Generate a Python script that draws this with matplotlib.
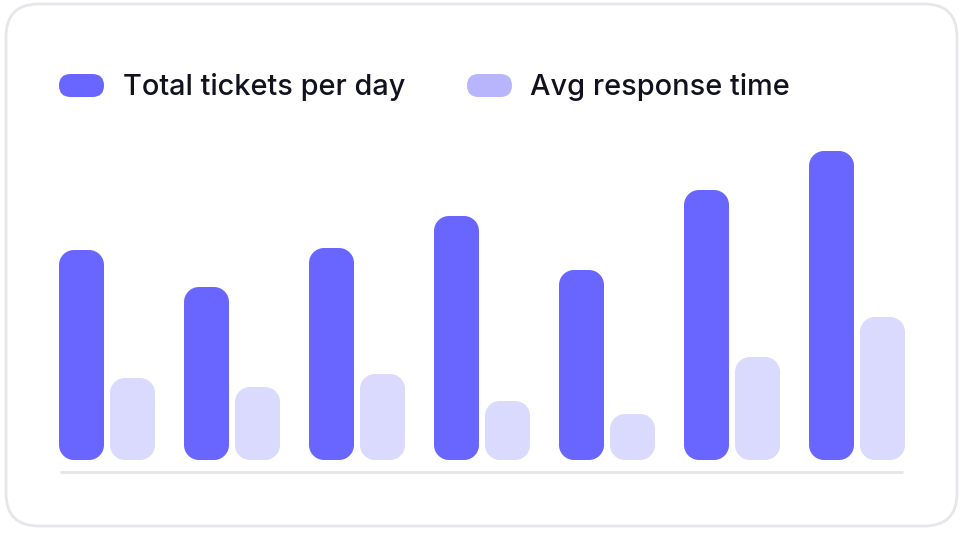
import matplotlib.pyplot as plt
from matplotlib.patches import FancyBboxPatch, Polygon
import numpy as np

# data (arbitrary units)
days = ["Mon", "Tue", "Wed", "Thu", "Fri", "Sat", "Sun"]
tickets = [210, 173, 212, 244, 190, 270, 309]
response = [82, 73, 86, 59, 46, 103, 143]
labels = ["Total tickets per day", "Avg response time"]

dark = "#6966FF"
light = "#DAD9FE"
legend_light = "#B8B5FD"
text_col = "#12121F"

W, H = 964, 535
fig = plt.figure(figsize=(W / 100, H / 100), dpi=100)
fig.patch.set_facecolor("white")

# card behind everything
card = FancyBboxPatch((6 / W, 1 - 526 / H), 951 / W, 522 / H,
                      boxstyle="round,pad=0,rounding_size=0.034",
                      mutation_aspect=W / H,
                      transform=fig.transFigure, facecolor="white",
                      edgecolor="#E6E6EB", linewidth=2, zorder=-5)
fig.patches.append(card)

# axes placed so that 1 y unit ~ 1 pixel
left, right, base, top = 59, 904, 472, 140
ax = fig.add_axes([left / W, 1 - base / H, (right - left) / W, (base - top) / H])
ax.set_zorder(2)
ax.set_facecolor("none")
ax.set_xlim(-0.384, 6.376)
ax.set_ylim(-12, base - top - 12)

x = np.arange(len(days))
bw = 0.36
off = 0.204
b1 = ax.bar(x - off, tickets, bw, color=dark)
b2 = ax.bar(x + off, response, bw, color=light)

px_per_x = (right - left) / (6.376 + 0.384)
r_px = 15


def round_corners(p):
    # rebuild a bar as a polygon with circular corners (radius in pixels)
    x0, y0 = p.get_x(), p.get_y()
    x1, y1 = x0 + p.get_width(), y0 + p.get_height()
    rx, ry = r_px / px_per_x, r_px
    t = np.linspace(0, np.pi / 2, 16)
    pts = []
    for cx, cy, a0 in [(x1 - rx, y1 - ry, 0), (x0 + rx, y1 - ry, np.pi / 2),
                       (x0 + rx, y0 + ry, np.pi), (x1 - rx, y0 + ry, 1.5 * np.pi)]:
        for a in a0 + t:
            pts.append((cx + rx * np.cos(a), cy + ry * np.sin(a)))
    return Polygon(pts, closed=True, facecolor=p.get_facecolor(),
                   edgecolor="none", clip_on=False)


for bars in (b1, b2):
    for p in bars:
        ax.add_patch(round_corners(p))
        p.set_visible(False)

ax.axhline(-12, xmin=0.001, xmax=0.999, color="#E4E4E9", linewidth=2,
           clip_on=False, solid_capstyle="butt")
for s in ax.spines.values():
    s.set_visible(False)
ax.set_xticks([])
ax.set_yticks([])

# legend pills + text
for lx, tx, col, lab in [(59, 123, dark, labels[0]), (467, 530, legend_light, labels[1])]:
    pill = FancyBboxPatch((lx / W, 1 - 97 / H), 45 / W, 23 / H,
                          boxstyle="round,pad=0,rounding_size=0.0119",
                          mutation_aspect=W / H,
                          transform=fig.transFigure, facecolor=col,
                          edgecolor="none", zorder=1)
    fig.patches.append(pill)
    fig.text(tx / W, 1 - 87 / H, lab, fontsize=20.8, family="Inter",
             fontweight="medium", color=text_col, va="center", ha="left")

fig.savefig("out.png", dpi=100)
